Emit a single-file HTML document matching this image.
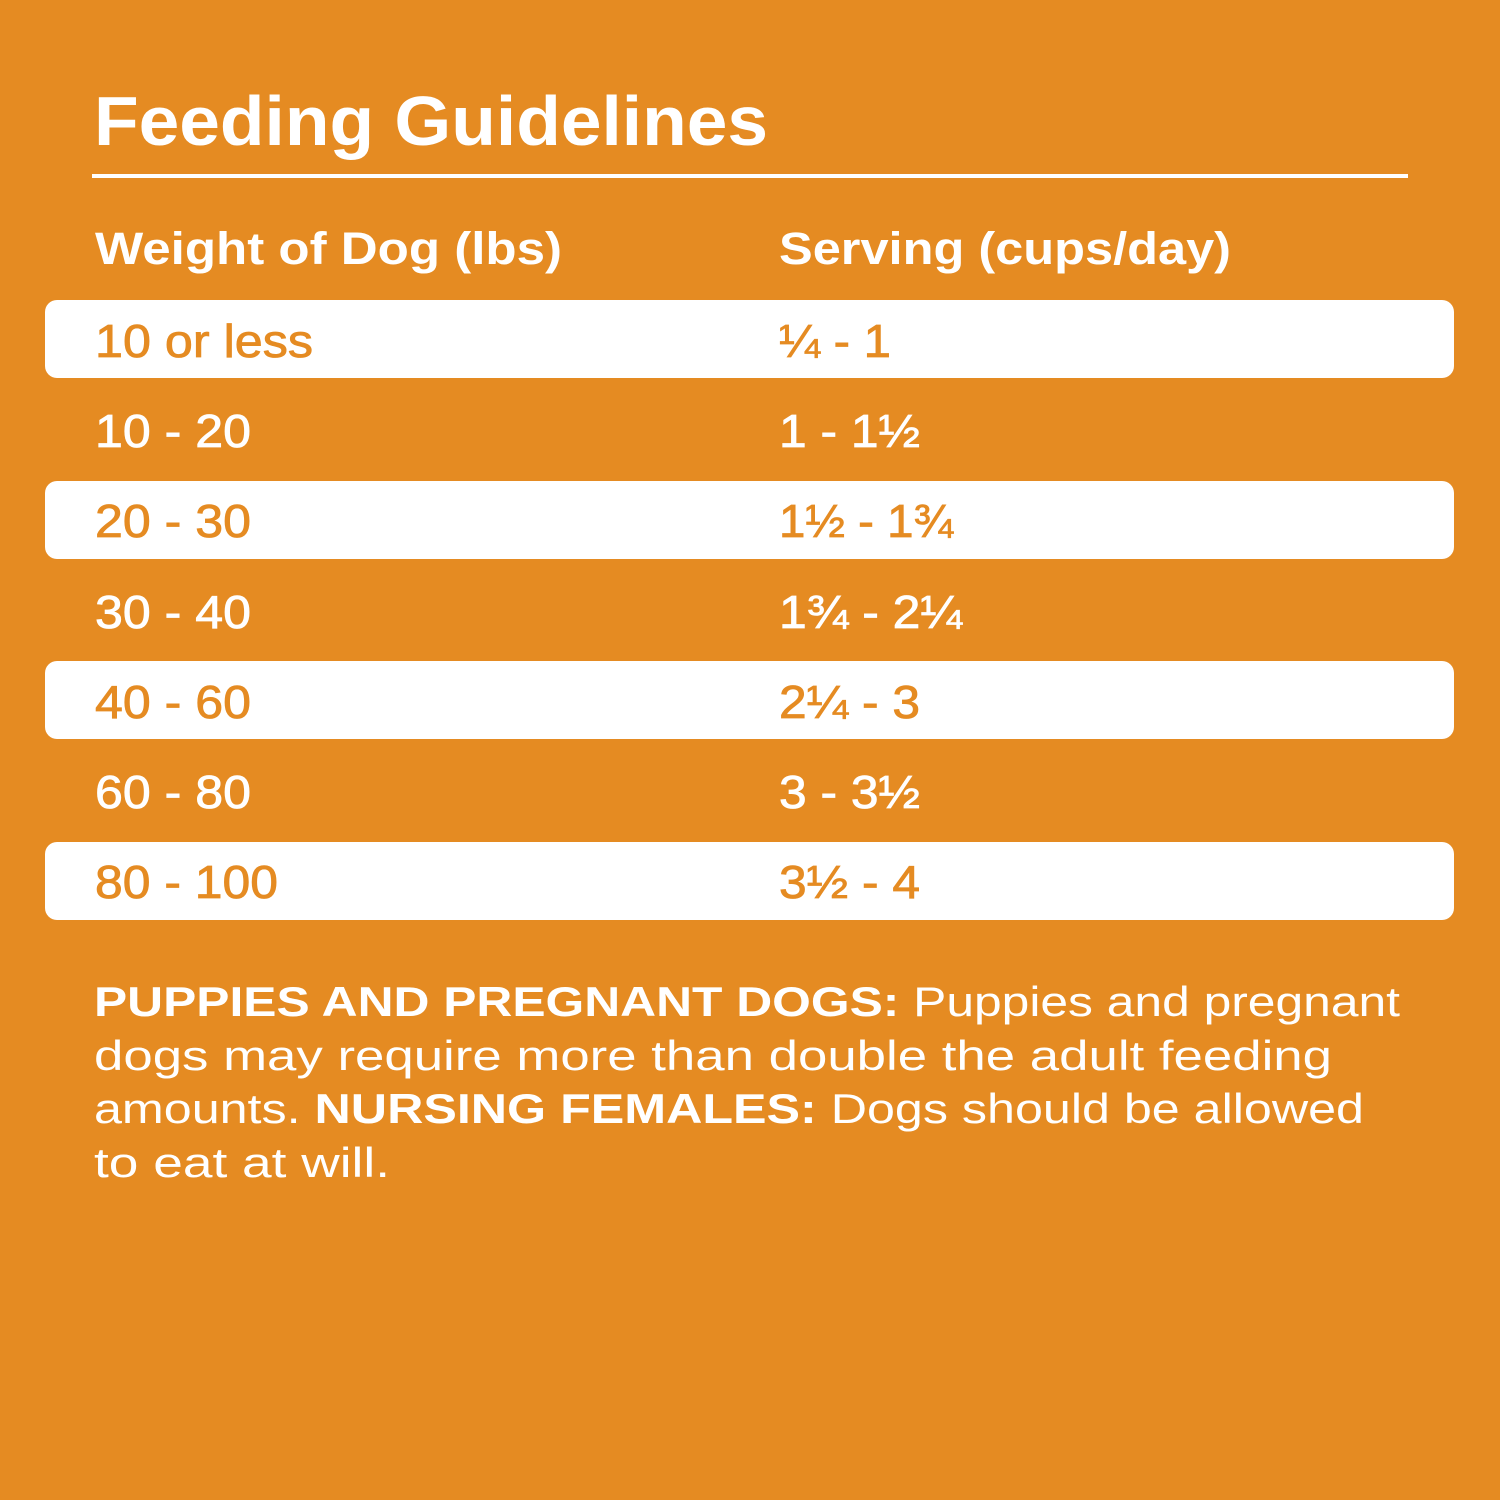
<!DOCTYPE html>
<html><head><meta charset="utf-8"><style>
html,body{margin:0;padding:0;background:#E58B22;}
svg{display:block}
text{font-family:"Liberation Sans",sans-serif;}
</style></head><body>
<svg width="1500" height="1500" viewBox="0 0 1500 1500" xmlns="http://www.w3.org/2000/svg">
<rect width="1500" height="1500" fill="#E58B22"/>
<text x="94" y="145" font-size="70" font-weight="bold" fill="#fff" textLength="674" lengthAdjust="spacingAndGlyphs">Feeding Guidelines</text>
<rect x="92" y="174" width="1316" height="4" fill="#fff"/>
<text x="95" y="264" font-size="45" font-weight="bold" fill="#fff" textLength="467" lengthAdjust="spacingAndGlyphs">Weight of Dog (lbs)</text>
<text x="779" y="264" font-size="45" font-weight="bold" fill="#fff" textLength="452" lengthAdjust="spacingAndGlyphs">Serving (cups/day)</text>
<g fill="#fff">
<rect x="45" y="300" width="1409" height="78" rx="12"/>
<rect x="45" y="481" width="1409" height="78" rx="12"/>
<rect x="45" y="661" width="1409" height="78" rx="12"/>
<rect x="45" y="842" width="1409" height="78" rx="12"/>
</g>
<g font-size="46" stroke-width="0.8">
<text x="95" y="357" fill="#E58B22" stroke="#E58B22" textLength="218" lengthAdjust="spacingAndGlyphs">10 or less</text>
<text x="779" y="357" fill="#E58B22" stroke="#E58B22" textLength="112" lengthAdjust="spacingAndGlyphs">¼ - 1</text>
<text x="95" y="447" fill="#fff" stroke="#fff" textLength="156" lengthAdjust="spacingAndGlyphs">10 - 20</text>
<text x="779" y="447" fill="#fff" stroke="#fff" textLength="141" lengthAdjust="spacingAndGlyphs">1 - 1½</text>
<text x="95" y="537" fill="#E58B22" stroke="#E58B22" textLength="156" lengthAdjust="spacingAndGlyphs">20 - 30</text>
<text x="779" y="537" fill="#E58B22" stroke="#E58B22" textLength="174" lengthAdjust="spacingAndGlyphs">1½ - 1¾</text>
<text x="95" y="628" fill="#fff" stroke="#fff" textLength="156" lengthAdjust="spacingAndGlyphs">30 - 40</text>
<text x="779" y="628" fill="#fff" stroke="#fff" textLength="183" lengthAdjust="spacingAndGlyphs">1¾ - 2¼</text>
<text x="95" y="718" fill="#E58B22" stroke="#E58B22" textLength="156" lengthAdjust="spacingAndGlyphs">40 - 60</text>
<text x="779" y="718" fill="#E58B22" stroke="#E58B22" textLength="141" lengthAdjust="spacingAndGlyphs">2¼ - 3</text>
<text x="95" y="808" fill="#fff" stroke="#fff" textLength="156" lengthAdjust="spacingAndGlyphs">60 - 80</text>
<text x="779" y="808" fill="#fff" stroke="#fff" textLength="141" lengthAdjust="spacingAndGlyphs">3 - 3½</text>
<text x="95" y="898" fill="#E58B22" stroke="#E58B22" textLength="183" lengthAdjust="spacingAndGlyphs">80 - 100</text>
<text x="779" y="898" fill="#E58B22" stroke="#E58B22" textLength="141" lengthAdjust="spacingAndGlyphs">3½ - 4</text>
</g>
<g font-size="42" fill="#fff">
<text x="94" y="1016" textLength="1306" lengthAdjust="spacingAndGlyphs"><tspan font-weight="bold">PUPPIES AND PREGNANT DOGS:</tspan> Puppies and pregnant</text>
<text x="94" y="1070" textLength="1238" lengthAdjust="spacingAndGlyphs">dogs may require more than double the adult feeding</text>
<text x="94" y="1123" textLength="1270" lengthAdjust="spacingAndGlyphs">amounts. <tspan font-weight="bold">NURSING FEMALES:</tspan> Dogs should be allowed</text>
<text x="94" y="1177" textLength="296" lengthAdjust="spacingAndGlyphs">to eat at will.</text>
</g>
</svg>
</body></html>
